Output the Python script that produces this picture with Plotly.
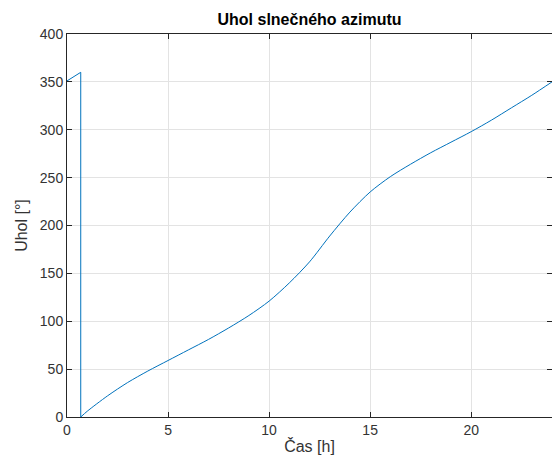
import plotly.graph_objects as go

# Time [h] and solar azimuth [deg]
cas = [0, 0.68, 0.68, 1, 2, 3, 4, 5, 6, 7, 8, 9, 10, 11, 12, 13, 14, 15, 16,
       17, 18, 19, 20, 21, 22, 23, 24]
uhol = [351, 360, 0, 6, 22, 36, 48, 59, 70, 81, 93, 106, 121, 140, 162, 189,
        214, 235, 251, 264, 276, 287, 298, 310, 323, 336, 350]

x_ticks = [0, 5, 10, 15, 20]
y_ticks = [0, 50, 100, 150, 200, 250, 300, 350, 400]

axis_col = "#262626"
text_col = "#333333"
grid_col = "#e3e3e3"
line_col = "#0072BD"
font_fam = "Liberation Sans, Arial, sans-serif"

JUMP = 2  # index where the azimuth wraps from 360 to 0

fig = go.Figure()
fig.add_trace(go.Scatter(x=cas[:JUMP + 1], y=uhol[:JUMP + 1], mode="lines",
                         line=dict(color=line_col, width=1),
                         showlegend=False))
fig.add_trace(go.Scatter(x=cas[JUMP:], y=uhol[JUMP:], mode="lines",
                         line=dict(color=line_col, width=1, shape="spline", smoothing=0.8),
                         showlegend=False))

fig.update_layout(
    width=552, height=464,
    margin=dict(l=67, r=0, t=34, b=47, autoexpand=False),
    paper_bgcolor="white", plot_bgcolor="white",
    font=dict(family=font_fam, size=14, color=text_col),
    title=dict(text="<b>Uhol slnečného azimutu</b>", x=(67 + 552) / 2 / 552,
               xanchor="center", y=1 - 19 / 464, yanchor="middle",
               font=dict(size=16, color="#000000")),
)
common = dict(showline=True, linecolor=axis_col, linewidth=1, mirror="ticks",
              ticks="inside", ticklen=5, tickcolor=axis_col, automargin=False,
              showgrid=True, gridcolor=grid_col, gridwidth=1, zeroline=False,
              tickfont=dict(size=14, color=text_col))
fig.update_xaxes(range=[0, 24], tickvals=x_ticks,
                 title=dict(text="Čas [h]", font=dict(size=16, color=text_col), standoff=4),
                 **common)
fig.update_yaxes(range=[0, 400], tickvals=y_ticks,
                 title=dict(text="Uhol [°]", font=dict(size=16, color=text_col), standoff=8),
                 **common)

fig.write_html("out.html",
               config={"displayModeBar": False},
               post_script="document.body.style.margin='0';"
                           "document.body.style.overflow='hidden';")
